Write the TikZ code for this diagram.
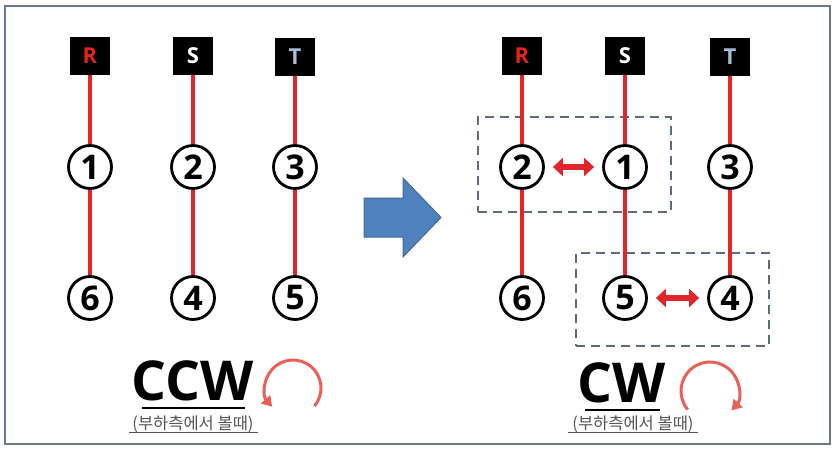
\documentclass[tikz,border=0pt]{standalone}
\usepackage{fontspec}
\setmainfont{Open Sans}
\newfontfamily\kr{Noto Sans CJK KR}
\usetikzlibrary{arrows.meta}
\definecolor{wire}{HTML}{E0262A}
\definecolor{frame}{HTML}{6B7A90}
\definecolor{dash}{HTML}{5A6A80}
\definecolor{tcol}{HTML}{A9BCD6}
\definecolor{rcol}{HTML}{E8201E}
\definecolor{bluefill}{HTML}{4F81BD}
\definecolor{blueedge}{HTML}{3F69A3}
\definecolor{rot}{HTML}{E8605A}
\definecolor{subgray}{HTML}{555555}
\begin{document}
\begin{tikzpicture}[x=1pt,y=1pt,
  phase/.style={fill=black,minimum width=40pt,minimum height=37pt,inner sep=0pt,font=\bfseries\fontsize{22}{22}\selectfont},
  num/.style={circle,draw=black,line width=2.8pt,fill=white,minimum size=43pt,inner sep=0pt,font=\bfseries\fontsize{34}{34}\selectfont},
  wireline/.style={draw=wire,line width=4pt},
  swap/.style={draw=wire,line width=6pt,{Triangle[length=10pt,width=18pt]}-{Triangle[length=10pt,width=18pt]},shorten <=8pt,shorten >=8pt},
  dashbox/.style={draw=dash,line width=2pt,dash pattern=on 9pt off 6pt,inner sep=0pt},
  rotarrow/.style={draw=rot,line width=3pt,-{Triangle[length=10pt,width=12pt]}},
  bigtext/.style={font=\bfseries\fontsize{55}{55}\selectfont,inner sep=0pt},
  subtext/.style={font=\kr\fontsize{16.5}{16.5}\selectfont,text=subgray,inner sep=0pt}
]
\useasboundingbox (0,0) rectangle (838,451);
\draw[frame,line width=2pt] (5,7) rectangle (830,445);

% ---- left panel ----
\node[phase,text=rcol] (LR) at (90,395) {R};
\node[phase,text=white] (LS) at (193,395) {S};
\node[phase,text=tcol] (LT) at (295,394) {T};
\node[num] (L1) at (90,284) {1};
\node[num] (L2) at (193,284) {2};
\node[num] (L3) at (295,284) {3};
\node[num] (L6) at (90,153) {6};
\node[num] (L4) at (193,153) {4};
\node[num] (L5) at (295,153) {5};
\draw[wireline] (LR) -- (L1);
\draw[wireline] (L1) -- (L6);
\draw[wireline] (LS) -- (L2);
\draw[wireline] (L2) -- (L4);
\draw[wireline] (LT) -- (L3);
\draw[wireline] (L3) -- (L5);

% ---- big arrow ----
\draw[blueedge,fill=bluefill,line width=1pt,line join=miter]
  (364,253) -- (403,253) -- (403,273) -- (441,233.5) -- (403,194) -- (403,214) -- (364,214) -- cycle;

% ---- right panel ----
\node[dashbox,minimum width=193pt,minimum height=95pt] (D1) at (574.5,286.5) {};
\node[dashbox,minimum width=193pt,minimum height=93pt] (D2) at (672.5,151.5) {};
\node[phase,text=rcol] (RR) at (522,395) {R};
\node[phase,text=white] (RS) at (625,395) {S};
\node[phase,text=tcol] (RT) at (730,394) {T};
\node[num] (R2) at (522,284) {2};
\node[num] (R1) at (625,284) {1};
\node[num] (R3) at (730,284) {3};
\node[num] (R6) at (522,153) {6};
\node[num] (R5) at (625,153) {5};
\node[num] (R4) at (730,153) {4};
\draw[wireline] (RR) -- (R2);
\draw[wireline] (R2) -- (R6);
\draw[wireline] (RS) -- (R1);
\draw[wireline] (R1) -- (R5);
\draw[wireline] (RT) -- (R3);
\draw[wireline] (R3) -- (R4);
\draw[swap] (R2) -- (R1);
\draw[swap] (R5) -- (R4);

% ---- CCW ----
\node[bigtext,anchor=base] (ccw) at (193,51) {CCW};
\draw[black,line width=2pt] (142,43) -- (245,43);
\node[subtext,anchor=base] (ccwsub) at (193,22) {(부하측에서 볼때)};
\draw[subgray,line width=0.8pt] (129,19) -- (258,19);
\coordinate (ccwc) at (293,63);
\draw[rotarrow] ([shift={(-40:28)}]ccwc) arc[start angle=-40,end angle=222,radius=28];

% ---- CW ----
\node[bigtext,anchor=base] (cw) at (622,49) {CW};
\draw[black,line width=2pt] (585,41) -- (660,41);
\node[subtext,anchor=base] (cwsub) at (633,22) {(부하측에서 볼때)};
\draw[subgray,line width=0.8pt] (568,19) -- (698,19);
\coordinate (cwc) at (710,60);
\draw[rotarrow] ([shift={(220:29)}]cwc) arc[start angle=220,end angle=-42,radius=29];
\end{tikzpicture}
\end{document}
